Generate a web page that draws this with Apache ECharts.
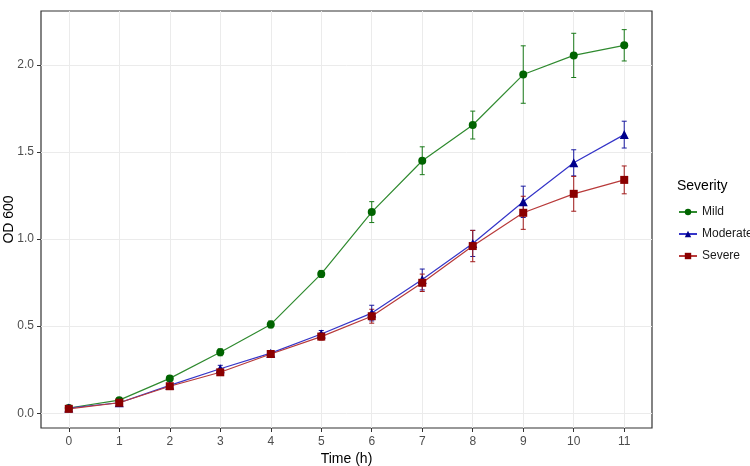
<!DOCTYPE html>
<html>
<head>
<meta charset="utf-8">
<script src="https://cdn.jsdelivr.net/npm/echarts@6/dist/echarts.min.js"></script>
<style>
  html, body { margin: 0; padding: 0; background: #fff; }
  #chart { width: 750px; height: 466px; }
</style>
</head>
<body>
<div id="chart"></div>
<script>
// time points (h)
var hours = [0, 1, 2, 3, 4, 5, 6, 7, 8, 9, 10, 11];

// mean OD600 and error per severity group
var mildMean = [0.03, 0.075, 0.20, 0.35, 0.51, 0.80, 1.155, 1.45, 1.655, 1.945, 2.055, 2.113];
var mildErr  = [0.01, 0.01, 0.015, 0.02, 0.02, 0.02, 0.06, 0.08, 0.08, 0.165, 0.127, 0.09];
var modMean  = [0.03, 0.06, 0.16, 0.255, 0.345, 0.455, 0.575, 0.768, 0.975, 1.214, 1.438, 1.60];
var modErr   = [0.005, 0.01, 0.01, 0.02, 0.015, 0.02, 0.045, 0.06, 0.075, 0.09, 0.075, 0.077];
var sevMean  = [0.025, 0.06, 0.155, 0.235, 0.34, 0.44, 0.557, 0.749, 0.96, 1.151, 1.26, 1.34];
var sevErr   = [0.005, 0.01, 0.01, 0.015, 0.015, 0.02, 0.04, 0.05, 0.09, 0.095, 0.1, 0.08];

var xTicks = [0, 1, 2, 3, 4, 5, 6, 7, 8, 9, 10, 11];
var yTicks = [0, 0.5, 1, 1.5, 2];

function pts(mean) {
  return hours.map(function (h, i) { return [h, mean[i]]; });
}
function bars(mean, err) {
  return hours.map(function (h, i) { return [h, mean[i] - err[i], mean[i] + err[i]]; });
}

function errorSeries(name, color, data) {
  return {
    name: name,
    type: 'custom',
    data: data,
    z: 3,
    renderItem: function (params, api) {
      var lo = api.coord([api.value(0), api.value(1)]);
      var hi = api.coord([api.value(0), api.value(2)]);
      var w = 2.5;
      var st = { stroke: color, lineWidth: 1 };
      return {
        type: 'group',
        children: [
          { type: 'line', shape: { x1: lo[0], y1: lo[1], x2: hi[0], y2: hi[1] }, style: st },
          { type: 'line', shape: { x1: lo[0] - w, y1: lo[1], x2: lo[0] + w, y2: lo[1] }, style: st },
          { type: 'line', shape: { x1: hi[0] - w, y1: hi[1], x2: hi[0] + w, y2: hi[1] }, style: st }
        ]
      };
    }
  };
}

function lineSeries(name, color, lineColor, symbol, size, data) {
  return {
    name: name,
    type: 'line',
    data: data,
    symbol: symbol,
    symbolSize: size,
    z: 4,
    itemStyle: { color: color },
    lineStyle: { color: lineColor, width: 1.2 },
    emphasis: { disabled: true }
  };
}

var chart = echarts.init(document.getElementById('chart'));
chart.setOption({
  animation: false,
  textStyle: { fontFamily: 'Liberation Sans, Arial, sans-serif' },
  grid: {
    left: 41, right: 98, top: 11, bottom: 38,
    show: true, borderColor: '#333', borderWidth: 1.2,
    containLabel: false, outerBoundsMode: 'none'
  },
  title: {
    text: 'Severity', left: 672, top: 174,
    textStyle: { fontSize: 14, fontWeight: 'normal', color: '#000' }
  },
  legend: {
    orient: 'vertical', left: 673, top: 201,
    itemWidth: 18, itemHeight: 8, itemGap: 10,
    data: ['Mild', 'Moderate', 'Severe'],
    textStyle: { fontSize: 12, color: '#1a1a1a' }
  },
  xAxis: {
    type: 'value', min: -0.55, max: 11.55,
    name: 'Time (h)', nameLocation: 'middle', nameGap: 24, nameMoveOverlap: false,
    nameTextStyle: { fontSize: 14, color: '#000' },
    axisLine: { show: false, onZero: false },
    axisTick: { show: true, inside: false, length: 4, customValues: xTicks, lineStyle: { color: '#333' } },
    axisLabel: { customValues: xTicks, fontSize: 12, color: '#4d4d4d', margin: 8 },
    splitLine: { show: true, lineStyle: { color: '#ebebeb', width: 1 } }
  },
  yAxis: {
    type: 'value', min: -0.085, max: 2.31,
    name: 'OD 600', nameLocation: 'middle', nameGap: 25, nameMoveOverlap: false,
    nameTextStyle: { fontSize: 14, color: '#000' },
    axisLine: { show: false, onZero: false },
    axisTick: { show: true, inside: false, length: 4, customValues: yTicks, lineStyle: { color: '#333' } },
    axisLabel: {
      customValues: yTicks, fontSize: 12, color: '#4d4d4d', margin: 7,
      formatter: function (v) { return v.toFixed(1); }
    },
    splitLine: { show: true, lineStyle: { color: '#ebebeb', width: 1 } }
  },
  series: [
    errorSeries('Mild-err', '#1a7a1a', bars(mildMean, mildErr)),
    errorSeries('Moderate-err', '#1a1aa0', bars(modMean, modErr)),
    errorSeries('Severe-err', '#a01a1a', bars(sevMean, sevErr)),
    lineSeries('Mild', '#006400', '#2f8a2f', 'circle', 8, pts(mildMean)),
    lineSeries('Moderate', '#00008b', '#3535c8', 'triangle', 9, pts(modMean)),
    lineSeries('Severe', '#8b0000', '#b83a3a', 'rect', 8, pts(sevMean))
  ]
});
</script>
</body>
</html>
